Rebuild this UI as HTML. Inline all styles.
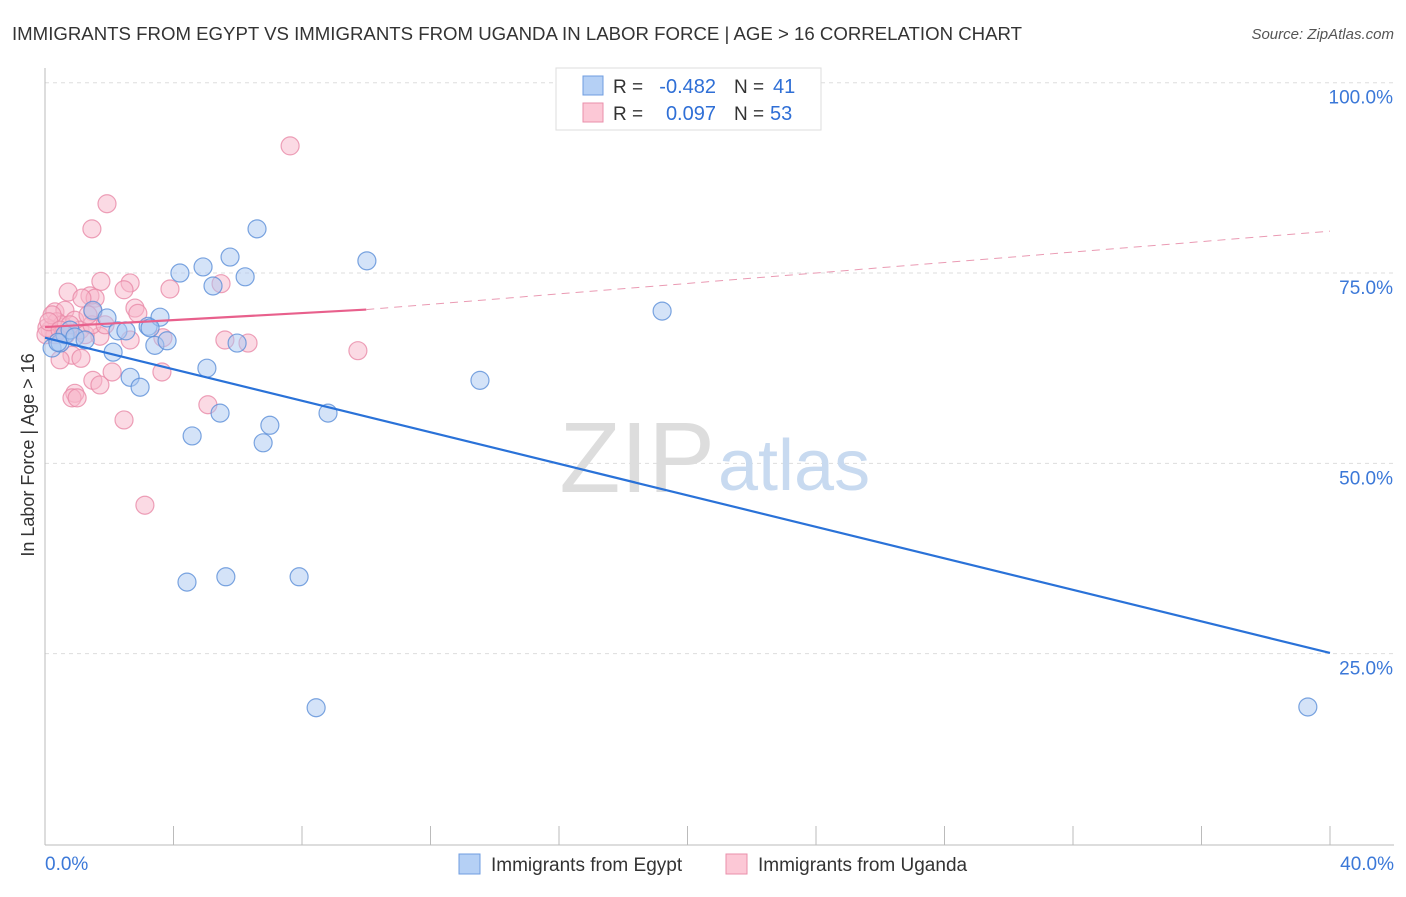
<!DOCTYPE html>
<html><head><meta charset="utf-8"><style>
body{margin:0;background:#fff;font-family:"Liberation Sans",sans-serif;}
svg text{font-family:"Liberation Sans",sans-serif;}
</style></head><body>
<svg width="1406" height="892" xmlns="http://www.w3.org/2000/svg" id="chart">
<text x="12" y="40" font-size="18" fill="#333" textLength="1010" lengthAdjust="spacingAndGlyphs">IMMIGRANTS FROM EGYPT VS IMMIGRANTS FROM UGANDA IN LABOR FORCE | AGE &gt; 16 CORRELATION CHART</text>
<text x="1394" y="39" font-size="15" fill="#555" font-style="italic" text-anchor="end">Source: ZipAtlas.com</text>
<g id="grid"></g>
<text x="715" y="492" font-size="100" fill="#ddd" text-anchor="end" font-family="Liberation Serif">ZIP</text>
<text x="718" y="490" font-size="72" fill="#c8daf0">atlas</text>
<g id="marks"></g>
<text transform="translate(34,455) rotate(-90)" font-size="18" fill="#333" text-anchor="middle">In Labor Force | Age &gt; 16</text>
<g>
<rect x="556" y="68" width="265" height="62" fill="#fff" stroke="#ddd"/>
<rect x="583" y="76" width="20" height="19" fill="#b5d0f5" stroke="#6f9de0"/>
<text x="613" y="93" font-size="19" fill="#333">R =</text>
<text x="716" y="93" font-size="20" fill="#2f6fd6" text-anchor="end">-0.482</text>
<text x="734" y="93" font-size="19" fill="#333">N =</text>
<text x="773" y="93" font-size="20" fill="#2f6fd6">41</text>
<rect x="583" y="103" width="20" height="19" fill="#fcc8d6" stroke="#ea8fab"/>
<text x="613" y="120" font-size="19" fill="#333">R =</text>
<text x="716" y="120" font-size="20" fill="#2f6fd6" text-anchor="end">0.097</text>
<text x="734" y="120" font-size="19" fill="#333">N =</text>
<text x="770" y="120" font-size="20" fill="#2f6fd6">53</text>
</g>
<g>
<rect x="459" y="854" width="21" height="20" fill="#b5d0f5" stroke="#6f9de0"/>
<text x="491" y="871" font-size="19" fill="#333">Immigrants from Egypt</text>
<rect x="726" y="854" width="21" height="20" fill="#fcc8d6" stroke="#ea8fab"/>
<text x="758" y="871" font-size="19" fill="#333">Immigrants from Uganda</text>
</g>
</svg>
<script>
const yTicks=[100,75,50,25];
const yTickLabels=["100.0%","75.0%","50.0%","25.0%"];
const xTickLabels=["0.0%","40.0%"];
const egyptX=[0.22,0.47,0.62,0.78,0.93,1.25,1.49,1.93,2.12,2.27,2.52,2.65,2.96,3.21,3.42,3.58,3.80,4.20,4.42,4.58,4.92,5.04,5.23,5.45,5.63,5.76,5.98,6.23,6.60,6.79,7.00,7.91,8.44,8.81,10.02,13.54,19.21,39.31,0.40,3.27];
const egyptY=[65.15,65.8,66.9,67.5,66.6,66.2,70.1,69.1,64.6,67.4,67.4,61.3,60.0,68.0,65.5,69.2,66.1,75.0,34.4,53.6,75.8,62.5,73.3,56.6,35.1,77.1,65.8,74.5,80.8,52.7,55.0,35.1,17.9,56.6,76.6,60.9,70.0,18.0,65.9,67.8];
const ugandaX=[7.63,1.93,1.46,1.74,2.65,3.89,5.48,0.72,1.40,1.56,1.15,2.46,0.31,0.62,1.49,2.80,2.89,3.67,5.60,6.32,0.37,0.53,0.93,1.09,1.71,0.16,0.31,0.06,0.65,0.84,1.12,1.49,1.71,2.09,3.64,5.07,0.93,0.84,1.00,2.46,3.11,9.74,0.47,1.25,1.46,0.78,0.22,0.03,0.12,1.34,0.47,1.87,2.65];
const ugandaY=[91.7,84.1,80.8,73.9,73.7,72.9,73.6,72.5,72.0,71.7,71.7,72.8,69.9,70.1,69.9,70.4,69.7,66.5,66.2,65.8,68.6,68.2,68.8,67.5,66.7,67.5,66.9,67.8,66.9,64.2,63.8,60.9,60.3,62.0,62.0,57.7,59.2,58.6,58.6,55.7,44.5,64.8,63.6,66.9,68.2,68.2,69.5,66.9,68.6,69.5,67.5,68.2,66.2];
const egyptTrend=[[0,66.5],[40,25.1]];
const ugandaTrendSolid=[[0,67.9],[10,70.2]];
const ugandaTrendDash=[[10,70.2],[40,80.5]];
const NS="http://www.w3.org/2000/svg";
const sx=v=>45+v*(1285/40);
const sy=v=>844-v*7.613;
const grid=document.getElementById('grid'),marks=document.getElementById('marks');
function mk(tag,attrs,parent){const e=document.createElementNS(NS,tag);for(const k in attrs)e.setAttribute(k,attrs[k]);parent.appendChild(e);return e;}
yTicks.forEach((t,i)=>{
 const l=mk('line',{x1:45,x2:1394,y1:sy(t),y2:sy(t),stroke:'#ddd','stroke-dasharray':'4,4'},grid);
 
 
 const tx=mk('text',{x:1393,y:sy(t)+21,'font-size':19,fill:'#3b78d8','text-anchor':'end'},grid);
 tx.textContent=yTickLabels[i];
 
 
});
const ax=mk('line',{x1:45,x2:45,y1:68,y2:845,stroke:'#bbb'},grid);


const bx=mk('line',{x1:45,x2:1394,y1:845,y2:845,stroke:'#bbb'},grid);


for(let i=0;i<=10;i++){
 const t=mk('line',{x1:sx(i*4),x2:sx(i*4),y1:826,y2:845,stroke:'#bbb'},grid);
 
 
}
[[0,'start',45],[40,'end',1394]].forEach((d,i)=>{
 const t=mk('text',{x:d[2],y:870,'font-size':19,fill:'#3b78d8','text-anchor':d[1]},grid);
 t.textContent=xTickLabels[i];
 
 
});
function pts(X,Y,fill,stroke,name){X.forEach((x,i)=>{
 const c=mk('circle',{cx:sx(x),cy:sy(Y[i]),r:9,fill:fill,'fill-opacity':0.5,stroke:stroke,'stroke-opacity':0.8,'stroke-width':1.2},marks);
 
 
});}
pts(ugandaX,ugandaY,'#f7b6c9','#e98aa7','point-uganda');
pts(egyptX,egyptY,'#a9c8f2','#5b8fd8','point-egypt');
function line(p,stroke,w,dash,name){
 const l=mk('line',{x1:sx(p[0][0]),y1:sy(p[0][1]),x2:sx(p[1][0]),y2:sy(p[1][1]),stroke:stroke,'stroke-width':w},marks);
 if(dash)l.setAttribute('stroke-dasharray',dash);
 
 
}
line(egyptTrend,'#2a72d8',2.2,null,'trend-egypt');
line(ugandaTrendSolid,'#e8608c',2.2,null,'trend-uganda');
line(ugandaTrendDash,'#ea9ab3',1,'8,6','trend-uganda-extension');
</script>
</body></html>
